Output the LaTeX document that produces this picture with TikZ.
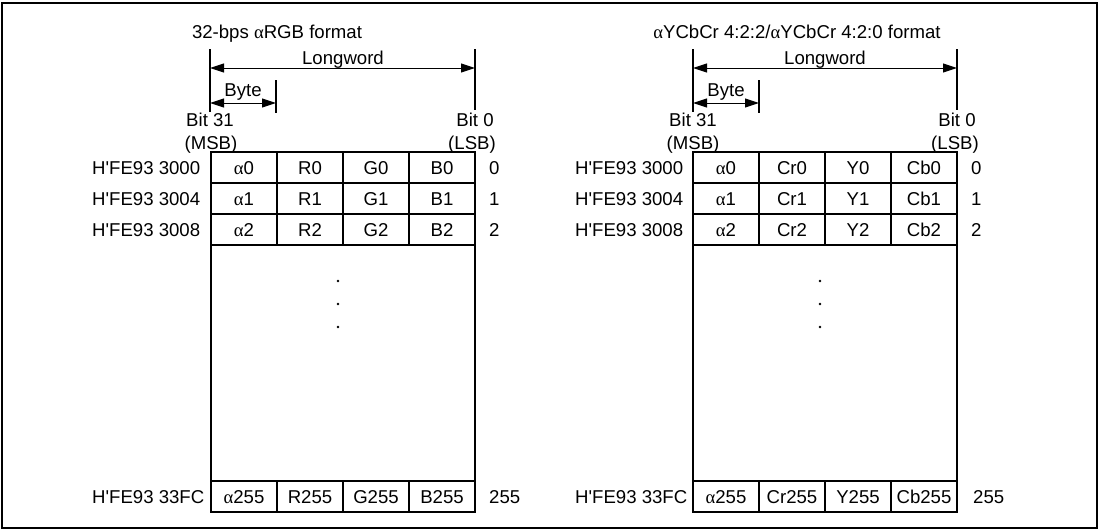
\documentclass[tikz,border=0pt]{standalone}
\usepackage{fontspec}
\setmainfont{Liberation Sans}
\newfontfamily\alfont{Liberation Serif}
\newcommand\al{{\alfont α}}
\newcommand\hq{\textquotesingle}
\usetikzlibrary{arrows.meta}
\begin{document}
\begin{tikzpicture}[x=1pt,y=-1pt,
  every node/.style={font=\fontsize{18.6}{22}\selectfont, inner sep=0pt, text height=13.4pt, text depth=0pt},
  cell/.style={draw, line width=2pt, minimum width=66pt, minimum height=31pt},
  blank/.style={draw, line width=2pt, minimum width=264pt, minimum height=236pt},
  addr/.style={anchor=west},
  idx/.style={anchor=west},
  dimline/.style={line width=2pt},
  dimarrow/.style={line width=1pt, {Triangle[length=14pt,width=9pt]}-{Triangle[length=14pt,width=9pt]}},
  dotmark/.style={fill=black}
]
\useasboundingbox (0,0) rectangle (1100,530);
\draw[line width=2pt] (2,3) rectangle (1097,528);

% ---------------- left table ----------------
\node (Ltitle) at (277,32) {32-bps \al RGB format};
\coordinate (LVa) at (210,49); \coordinate (LVb) at (210,112);
\coordinate (RVa) at (475,49); \coordinate (RVb) at (475,110);
\coordinate (LBa) at (276,80); \coordinate (LBb) at (276,113);
\draw[dimline] (LVa) -- (LVb);
\draw[dimline] (RVa) -- (RVb);
\draw[dimline] (LBa) -- (LBb);
\coordinate (LW1) at (210,68); \coordinate (LW2) at (475,68);
\coordinate (LY1) at (210,103); \coordinate (LY2) at (276,103);
\draw[dimarrow] (LW1) -- (LW2);
\draw[dimarrow] (LY1) -- (LY2);
\node (Llong) at (343,58) {Longword};
\node (Lbyte) at (243,90) {Byte};
\node (Lb31) at (210,120) {Bit 31};
\node (Lmsb) at (211,143) {(MSB)};
\node (Lb0) at (475,120) {Bit 0};
\node (Llsb) at (472,143) {(LSB)};

\node[cell] (L00) at (244,167.5) {\al0};
\node[cell] (L01) at (310,167.5) {R0};
\node[cell] (L02) at (376,167.5) {G0};
\node[cell] (L03) at (442,167.5) {B0};
\node[cell] (L10) at (244,198.5) {\al1};
\node[cell] (L11) at (310,198.5) {R1};
\node[cell] (L12) at (376,198.5) {G1};
\node[cell] (L13) at (442,198.5) {B1};
\node[cell] (L20) at (244,229.5) {\al2};
\node[cell] (L21) at (310,229.5) {R2};
\node[cell] (L22) at (376,229.5) {G2};
\node[cell] (L23) at (442,229.5) {B2};
\node[blank] (Lmid) at (343,363) {};
\node[cell] (L30) at (244,496.5) {\al255};
\node[cell] (L31) at (310,496.5) {R255};
\node[cell] (L32) at (376,496.5) {G255};
\node[cell] (L33) at (442,496.5) {B255};
\fill[dotmark] (338,281) circle (1.3);
\fill[dotmark] (338,304) circle (1.3);
\fill[dotmark] (338,327) circle (1.3);

\node[addr] (La0) at (92,167.5) {H\hq FE93 3000};
\node[addr] (La1) at (92,198.5) {H\hq FE93 3004};
\node[addr] (La2) at (92,229.5) {H\hq FE93 3008};
\node[addr] (La3) at (92,496.5) {H\hq FE93 33FC};
\node[idx] (Li0) at (489,167.5) {0};
\node[idx] (Li1) at (489,198.5) {1};
\node[idx] (Li2) at (489,229.5) {2};
\node[idx] (Li3) at (489,496.5) {255};

% ---------------- right table ----------------
\node (Rtitle) at (797,32) {\al YCbCr 4:2:2/\al YCbCr 4:2:0 format};
\coordinate (RLVa) at (693,49); \coordinate (RLVb) at (693,112);
\coordinate (RRVa) at (957,49); \coordinate (RRVb) at (957,110);
\coordinate (RBa) at (759,80); \coordinate (RBb) at (759,113);
\draw[dimline] (RLVa) -- (RLVb);
\draw[dimline] (RRVa) -- (RRVb);
\draw[dimline] (RBa) -- (RBb);
\coordinate (RW1) at (693,68); \coordinate (RW2) at (957,68);
\coordinate (RY1) at (693,103); \coordinate (RY2) at (759,103);
\draw[dimarrow] (RW1) -- (RW2);
\draw[dimarrow] (RY1) -- (RY2);
\node (Rlong) at (825,58) {Longword};
\node (Rbyte) at (726,90) {Byte};
\node (Rb31) at (693,120) {Bit 31};
\node (Rmsb) at (693,143) {(MSB)};
\node (Rb0) at (957,120) {Bit 0};
\node (Rlsb) at (955,143) {(LSB)};

\node[cell] (R00) at (726,167.5) {\al0};
\node[cell] (R01) at (792,167.5) {Cr0};
\node[cell] (R02) at (858,167.5) {Y0};
\node[cell] (R03) at (924,167.5) {Cb0};
\node[cell] (R10) at (726,198.5) {\al1};
\node[cell] (R11) at (792,198.5) {Cr1};
\node[cell] (R12) at (858,198.5) {Y1};
\node[cell] (R13) at (924,198.5) {Cb1};
\node[cell] (R20) at (726,229.5) {\al2};
\node[cell] (R21) at (792,229.5) {Cr2};
\node[cell] (R22) at (858,229.5) {Y2};
\node[cell] (R23) at (924,229.5) {Cb2};
\node[blank] (Rmid) at (825,363) {};
\node[cell] (R30) at (726,496.5) {\al255};
\node[cell] (R31) at (792,496.5) {Cr255};
\node[cell] (R32) at (858,496.5) {Y255};
\node[cell] (R33) at (924,496.5) {Cb255};
\fill[dotmark] (820,281) circle (1.3);
\fill[dotmark] (820,304) circle (1.3);
\fill[dotmark] (820,327) circle (1.3);

\node[addr] (Ra0) at (575,167.5) {H\hq FE93 3000};
\node[addr] (Ra1) at (575,198.5) {H\hq FE93 3004};
\node[addr] (Ra2) at (575,229.5) {H\hq FE93 3008};
\node[addr] (Ra3) at (575,496.5) {H\hq FE93 33FC};
\node[idx] (Ri0) at (971,167.5) {0};
\node[idx] (Ri1) at (971,198.5) {1};
\node[idx] (Ri2) at (971,229.5) {2};
\node[idx] (Ri3) at (973,496.5) {255};
\end{tikzpicture}
\end{document}
